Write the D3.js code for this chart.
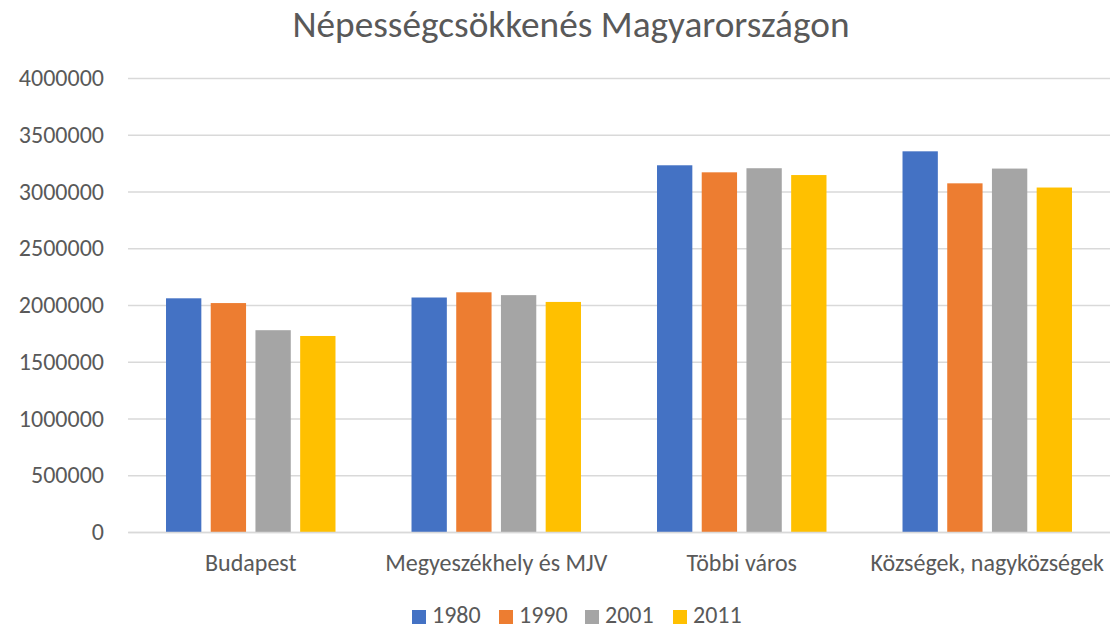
<!DOCTYPE html>
<html lang="hu">
<head>
  <meta charset="UTF-8">
  <title>Népességcsökkenés Magyarországon</title>
  <style>
    html, body { margin: 0; background: #fff; }
    text { font-family: Calibri, Carlito, "Open Sans", sans-serif; fill: #595959; }
    .grid line { stroke: #d9d9d9; stroke-width: 1.3px; }
  </style>
</head>
<body>
<svg id="chart" width="1110" height="626" viewBox="0 0 1110 626"></svg>
<script src="https://d3js.org/d3.v7.min.js"></script>
<script>
const categories = ["Budapest", "Megyeszékhely és MJV", "Többi város", "Községek, nagyközségek"];
const years = ["1980", "1990", "2001", "2011"];
const values1980 = [2059000, 2066000, 3231000, 3354000];
const values1990 = [2017000, 2112000, 3169000, 3072000];
const values2001 = [1778000, 2087000, 3205000, 3202000];
const values2011 = [1727000, 2027000, 3145000, 3035000];
const yTicks = [0, 500000, 1000000, 1500000, 2000000, 2500000, 3000000, 3500000, 4000000];
const colors = ["#4472c4", "#ed7d31", "#a5a5a5", "#ffc000"];

const series = [values1980, values1990, values2001, values2011];

const svg = d3.select("#chart"),
    margin = {top: 78, right: 0, bottom: 94, left: 128},
    width = +svg.attr("width") - margin.left - margin.right,
    height = +svg.attr("height") - margin.top - margin.bottom;

const x0 = d3.scaleBand().domain(categories).range([0, width]);
const x1 = d3.scaleBand().domain(years).range([0, x0.bandwidth()])
    .paddingInner(0.21).paddingOuter(0.85);
const y = d3.scaleLinear().domain([0, 4000000]).range([height, 0]);
const color = d3.scaleOrdinal().domain(years).range(colors);

const g = svg.append("g")
    .attr("transform", "translate(" + margin.left + "," + margin.top + ")");

// gridlines
g.append("g")
    .attr("class", "grid")
    .call(d3.axisLeft(y).tickValues(yTicks).tickSize(-width).tickFormat(""))
    .call(s => s.select(".domain").remove());

// y labels
g.append("g")
    .call(d3.axisLeft(y).tickValues(yTicks).tickSize(0).tickPadding(24).tickFormat(d3.format("d")))
    .call(s => s.select(".domain").remove())
    .selectAll("text")
    .style("font-size", "24px");

// bars
const groups = g.selectAll(".cat")
    .data(categories)
    .enter().append("g")
    .attr("class", "cat")
    .attr("transform", d => "translate(" + x0(d) + ",0)");

groups.selectAll("rect")
    .data((d, i) => years.map((yr, j) => ({year: yr, value: series[j][i]})))
    .enter().append("rect")
    .attr("x", d => x1(d.year))
    .attr("y", d => y(d.value))
    .attr("width", x1.bandwidth())
    .attr("height", d => height - y(d.value))
    .attr("fill", d => color(d.year));

// x axis
const xAxis = g.append("g")
    .attr("transform", "translate(0," + height + ")")
    .call(d3.axisBottom(x0).tickSize(0).tickPadding(21.5));
xAxis.select(".domain").attr("stroke", "#d9d9d9").attr("stroke-width", 1.3);
xAxis.selectAll("text").style("font-size", "24px");

// title
svg.append("text")
    .attr("x", 571)
    .attr("y", 37)
    .attr("text-anchor", "middle")
    .style("font-size", "37.3px")
    .text("Népességcsökkenés Magyarországon");

// legend
const legendX = [412, 499, 585, 673];
const legend = svg.append("g").selectAll("g")
    .data(years)
    .enter().append("g")
    .attr("transform", (d, i) => "translate(" + legendX[i] + ",609)");
legend.append("rect")
    .attr("y", 1)
    .attr("width", 14).attr("height", 14)
    .attr("fill", d => color(d));
legend.append("text")
    .attr("x", 20).attr("y", 14)
    .style("font-size", "24px")
    .text(d => d);
</script>
</body>
</html>
